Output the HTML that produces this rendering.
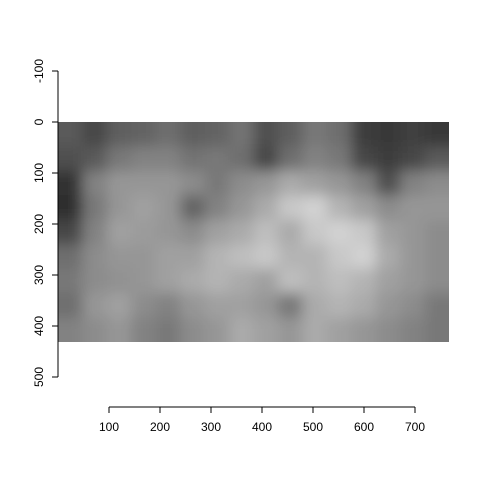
<!DOCTYPE html>
<html><head><meta charset="utf-8"><style>
html,body{margin:0;padding:0;background:#fff;}
text{font-family:"Liberation Sans",sans-serif;font-size:12px;fill:#000;}
</style></head><body>
<svg id="chart" width="480" height="480" viewBox="0 0 480 480">
<defs>
<clipPath id="clip"><rect x="58" y="122" width="391" height="220"/></clipPath>
<filter id="soft" x="-5%" y="-5%" width="110%" height="110%"><feGaussianBlur stdDeviation="7"/></filter>
</defs>
<g id="cells" clip-path="url(#clip)"><g id="cellsInner" filter="url(#soft)"></g></g>
<g id="xaxis"></g>
<g id="yaxis"></g>
</svg>
<script>
const xTicks = [100,200,300,400,500,600,700];
const yTicks = [-100,0,100,200,300,400,500];
const imgWidth = 767;
const imgHeight = 431;
const grayRows = [
 [90,70,95,100,110,95,100,115,80,95,120,110,60,55,65,55],
 [80,90,120,130,130,115,120,110,70,110,130,120,70,60,70,90],
 [50,130,150,150,150,140,120,140,150,170,160,150,130,80,130,140],
 [45,120,150,160,150,100,130,150,170,200,210,180,160,140,150,150],
 [70,130,160,155,150,140,160,170,190,170,200,210,200,160,150,140],
 [110,140,150,150,160,160,180,190,200,180,180,200,210,170,150,140],
 [120,140,145,150,160,170,180,170,160,190,180,190,180,160,150,140],
 [110,150,160,140,130,150,160,160,150,120,170,180,170,150,140,120],
 [130,140,150,130,120,140,150,170,160,150,170,160,150,140,130,120]
];
const NS="http://www.w3.org/2000/svg";
const sx = v => 58 + v*0.51;
const sy = v => 122 + v*0.51;
function mk(tag, attrs, parent){const e=document.createElementNS(NS,tag);for(const k in attrs)e.setAttribute(k,attrs[k]);parent.appendChild(e);return e;}
const inner=document.getElementById('cellsInner');
const nr=grayRows.length, nc=grayRows[0].length;
const cw=imgWidth/nc, ch=imgHeight/nr;
grayRows.forEach((row,r)=>row.forEach((g,c)=>{
  let x0=c*cw, x1=(c+1)*cw, y0=r*ch, y1=(r+1)*ch;
  if(c===0)x0-=40; if(c===nc-1)x1+=40; if(r===0)y0-=40; if(r===nr-1)y1+=40;
  const e=mk('rect',{x:sx(x0),y:sy(y0),width:sx(x1)-sx(x0)+0.5,height:sy(y1)-sy(y0)+0.5,fill:`rgb(${g},${g},${g})`},inner);
  
  
}));
const xa=document.getElementById('xaxis');
mk('line',{x1:sx(xTicks[0]),x2:sx(xTicks[xTicks.length-1]),y1:407,y2:407,stroke:'#000'},xa);
xTicks.forEach(t=>{
  mk('line',{x1:sx(t),x2:sx(t),y1:407,y2:413,stroke:'#000'},xa);
  const tx=mk('text',{x:sx(t),y:431,'text-anchor':'middle'},xa);tx.textContent=t;
  
  
});
const ya=document.getElementById('yaxis');
mk('line',{x1:58,x2:58,y1:sy(yTicks[0]),y2:sy(yTicks[yTicks.length-1]),stroke:'#000'},ya);
yTicks.forEach(t=>{
  mk('line',{x1:52,x2:58,y1:sy(t),y2:sy(t),stroke:'#000'},ya);
  const tx=mk('text',{x:43,y:sy(t),'text-anchor':'middle',transform:`rotate(-90 43 ${sy(t)})`},ya);tx.textContent=t;
  
  
});
</script>
</body></html>
